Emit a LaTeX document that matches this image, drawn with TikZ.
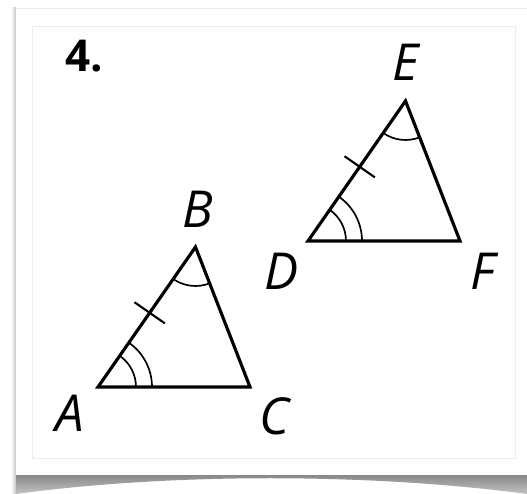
\documentclass[tikz,border=0pt]{standalone}
\usepackage{fontspec}
\usepackage{tikz}
\usetikzlibrary{positioning,calc,angles}
\newfontfamily\lblfont{Open Sans}
\definecolor{cardline}{RGB}{236,236,236}
\definecolor{shadowdark}{RGB}{130,130,130}
\definecolor{shadowlight}{RGB}{195,195,195}

\begin{document}
\begin{tikzpicture}[
  side/.style={line width=1.8pt, line join=miter, black},
  anglemark/.style={line width=0.95pt, black},
  vlbl/.style={font=\lblfont\itshape\fontsize{29}{30}\selectfont, inner sep=0pt,
               text height=0.72cm, text depth=0pt, anchor=center},
  numlbl/.style={font=\lblfont\bfseries\fontsize{25}{26}\selectfont, inner sep=0pt,
               text height=0.58cm, text depth=0pt, anchor=center},
]
\useasboundingbox (0,0) rectangle (10.54,9.88);
\fill[white] (0,0) rectangle (10.54,9.88);

% card with its shadow
\shade[left color=white, right color=shadowlight] (0.22,0) rectangle (0.32,9.72);
\shade[top color=shadowdark, bottom color=shadowlight]
  (0.32,0.38) -- (10.54,0.38) -- (10.54,0)
  .. controls (7.4,0.42) and (3.4,0.42) .. (0.32,0) -- cycle;
\fill[white] (0.32,0.38) rectangle (10.54,9.72);
\draw[cardline, line width=0.5pt] (0.32,9.72) -- (10.54,9.72);
\draw[cardline, line width=0.5pt] (0.64,0.72) rectangle (10.30,9.36);

\node[numlbl] (num) at (1.68,8.73) {4.};

% triangle ABC
\coordinate (A) at (1.96,2.14);
\coordinate (B) at (3.91,4.94);
\coordinate (C) at (5.00,2.14);
\draw[side] (A) -- (B) -- (C) -- cycle;
\pic[draw, anglemark, angle radius=0.76cm] {angle=C--A--B};
\pic[draw, anglemark, angle radius=1.08cm] {angle=C--A--B};
\pic[draw, anglemark, angle radius=0.78cm] {angle=A--B--C};
\path (A) -- (B) coordinate[pos=0.53] (tAB);
\draw[anglemark, line width=1.2pt] ($(tAB)!0.37cm!90:(B)$) -- ($(tAB)!0.37cm!-90:(B)$);

\node[vlbl] (lA) at (1.40,1.60) {A};
\node[vlbl] (lB) at (3.96,5.68) {B};
\node[vlbl] (lC) at (5.49,1.54) {C};

% triangle DEF
\coordinate (D) at (6.16,5.06);
\coordinate (E) at (8.11,7.86);
\coordinate (F) at (9.20,5.06);
\draw[side] (D) -- (E) -- (F) -- cycle;
\pic[draw, anglemark, angle radius=0.76cm] {angle=F--D--E};
\pic[draw, anglemark, angle radius=1.08cm] {angle=F--D--E};
\pic[draw, anglemark, angle radius=0.78cm] {angle=D--E--F};
\path (D) -- (E) coordinate[pos=0.53] (tDE);
\draw[anglemark, line width=1.2pt] ($(tDE)!0.37cm!90:(E)$) -- ($(tDE)!0.37cm!-90:(E)$);

\node[vlbl] (lD) at (5.63,4.45) {D};
\node[vlbl] (lE) at (8.12,8.63) {E};
\node[vlbl] (lF) at (9.66,4.45) {F};
\end{tikzpicture}
\end{document}
